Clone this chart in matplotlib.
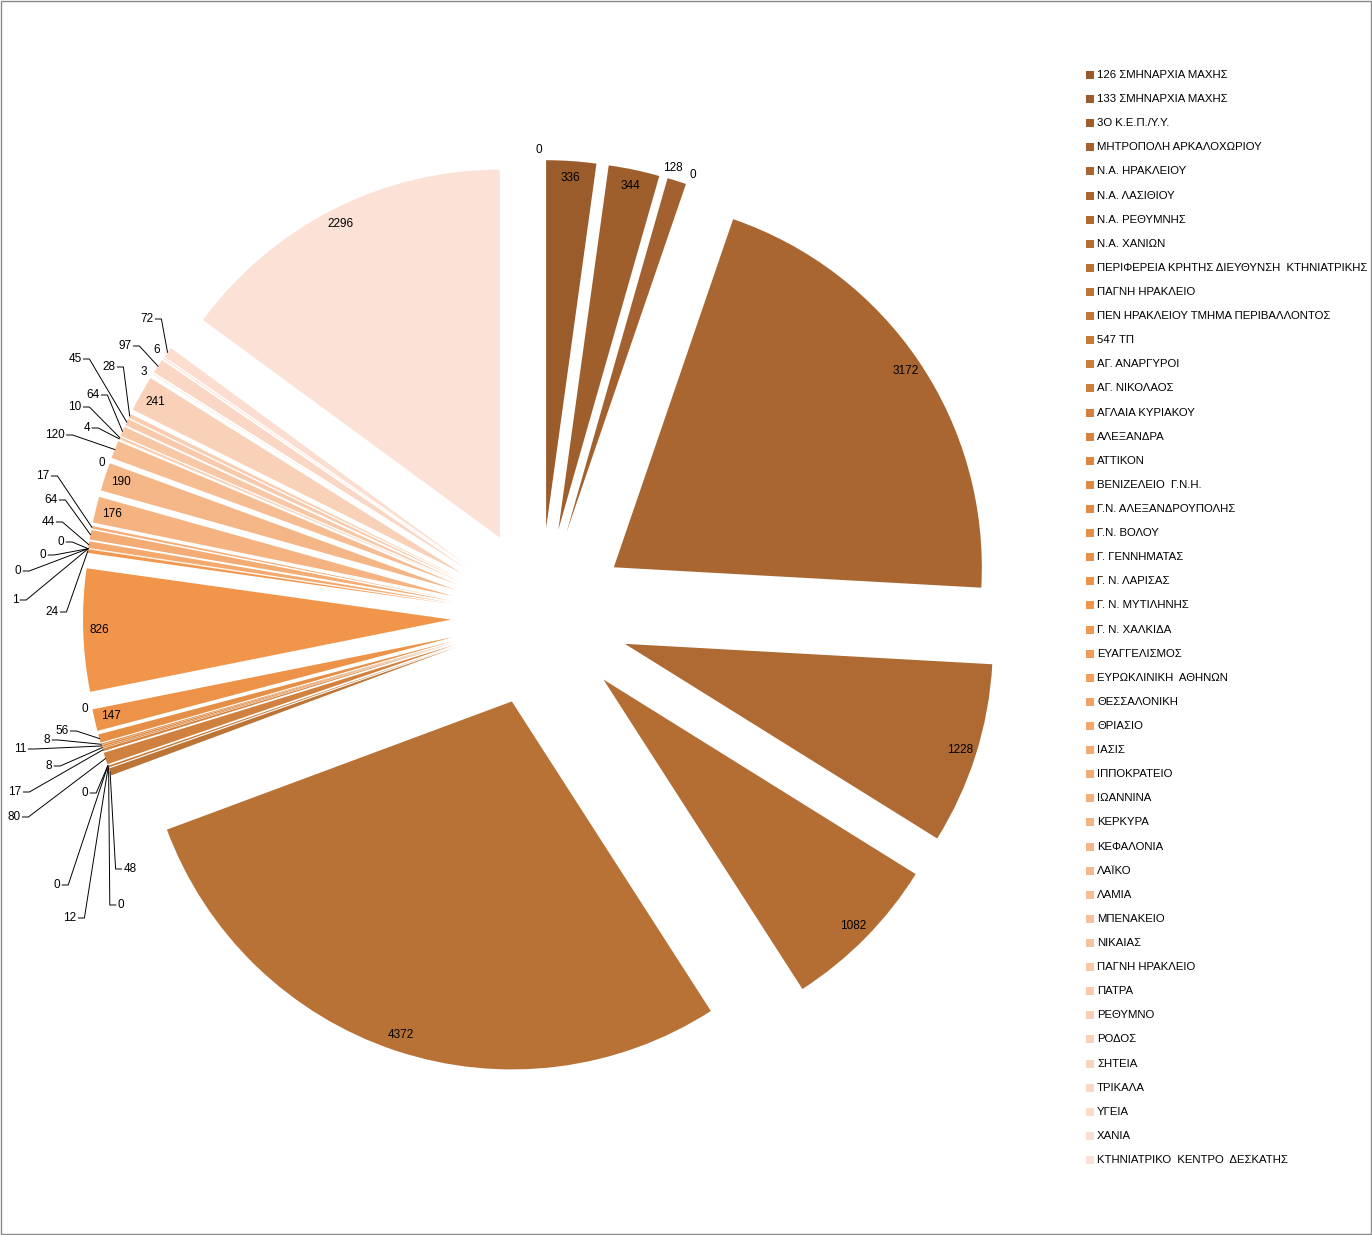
import numpy as np
import matplotlib.pyplot as plt
from matplotlib.patches import Rectangle

W, H = 1372, 1235

names = [
    "126 ΣΜΗΝΑΡΧΙΑ ΜΑΧΗΣ", "133 ΣΜΗΝΑΡΧΙΑ ΜΑΧΗΣ", "3Ο Κ.Ε.Π./Υ.Υ.",
    "ΜΗΤΡΟΠΟΛΗ ΑΡΚΑΛΟΧΩΡΙΟΥ", "Ν.Α. ΗΡΑΚΛΕΙΟΥ", "Ν.Α. ΛΑΣΙΘΙΟΥ",
    "Ν.Α. ΡΕΘΥΜΝΗΣ", "Ν.Α. ΧΑΝΙΩΝ",
    "ΠΕΡΙΦΕΡΕΙΑ ΚΡΗΤΗΣ ΔΙΕΥΘΥΝΣΗ  ΚΤΗΝΙΑΤΡΙΚΗΣ", "ΠΑΓΝΗ ΗΡΑΚΛΕΙΟ",
    "ΠΕΝ ΗΡΑΚΛΕΙΟΥ ΤΜΗΜΑ ΠΕΡΙΒΑΛΛΟΝΤΟΣ", "547 ΤΠ", "ΑΓ. ΑΝΑΡΓΥΡΟΙ",
    "ΑΓ. ΝΙΚΟΛΑΟΣ", "ΑΓΛΑΙΑ ΚΥΡΙΑΚΟΥ", "ΑΛΕΞΑΝΔΡΑ", "ΑΤΤΙΚΟΝ",
    "ΒΕΝΙΖΕΛΕΙΟ  Γ.Ν.Η.", "Γ.Ν. ΑΛΕΞΑΝΔΡΟΥΠΟΛΗΣ", "Γ.Ν. ΒΟΛΟΥ",
    "Γ. ΓΕΝΝΗΜΑΤΑΣ", "Γ. Ν. ΛΑΡΙΣΑΣ", "Γ. Ν. ΜΥΤΙΛΗΝΗΣ", "Γ. Ν. ΧΑΛΚΙΔΑ",
    "ΕΥΑΓΓΕΛΙΣΜΟΣ", "ΕΥΡΩΚΛΙΝΙΚΗ  ΑΘΗΝΩΝ", "ΘΕΣΣΑΛΟΝΙΚΗ", "ΘΡΙΑΣΙΟ",
    "ΙΑΣΙΣ", "ΙΠΠΟΚΡΑΤΕΙΟ", "ΙΩΑΝΝΙΝΑ", "ΚΕΡΚΥΡΑ", "ΚΕΦΑΛΟΝΙΑ", "ΛΑΪΚΟ",
    "ΛΑΜΙΑ", "ΜΠΕΝΑΚΕΙΟ", "ΝΙΚΑΙΑΣ", "ΠΑΓΝΗ ΗΡΑΚΛΕΙΟ", "ΠΑΤΡΑ",
    "ΡΕΘΥΜΝΟ", "ΡΟΔΟΣ", "ΣΗΤΕΙΑ", "ΤΡΙΚΑΛΑ", "ΥΓΕΙΑ", "ΧΑΝΙΑ",
    "ΚΤΗΝΙΑΤΡΙΚΟ  ΚΕΝΤΡΟ  ΔΕΣΚΑΤΗΣ",
]

values = [0, 336, 344, 128, 0, 3172, 1228, 1082, 4372,
          48, 0, 12, 0, 0, 80, 17, 8, 11, 8, 56,
          0, 147, 826, 24, 1, 0, 0, 0, 44, 64, 17,
          176, 190, 0, 120, 4, 10, 64, 45, 28,
          241, 3, 97, 6, 72, 2296]

# colour ramp (dark brown -> orange -> pale peach)
ramp_pos = [0, 5, 8, 22, 45]
ramp_rgb = np.array([(152, 90, 42), (169, 102, 48), (185, 114, 54),
                     (240, 149, 74), (252, 225, 214)]) / 255.0
idx = np.arange(len(values))
colors = [tuple(np.interp(i, ramp_pos, ramp_rgb[:, c]) for c in range(3)) for i in idx]

# label positions for the small slices (pixels, y down): (x, y, leader line?)
outside = {
    0: (539, 150, False), 3: (673, 168, False), 4: (693, 175, False),
    9: (130, 869, True), 10: (121, 905, True), 11: (70, 918, True),
    12: (57, 885, True), 13: (85, 793, True), 14: (14, 817, True),
    15: (15, 792, True), 16: (49, 766, True), 17: (20, 749, True),
    18: (47, 740, True), 19: (62, 731, True), 20: (85, 709, False),
    23: (52, 612, True), 24: (15, 600, True), 25: (18, 571, True),
    26: (43, 555, True), 27: (61, 542, True), 28: (48, 522, True),
    29: (51, 500, True), 30: (43, 476, True), 33: (102, 463, False),
    34: (55, 435, True), 35: (87, 428, True), 36: (75, 407, True),
    37: (93, 395, True), 38: (75, 359, True), 39: (109, 367, True),
    41: (144, 372, False), 42: (125, 346, True), 43: (157, 350, False),
    44: (147, 319, True),
}

plt.rcParams['font.family'] = ['Liberation Sans', 'DejaVu Sans']
FS = 8.5
FS_LEG = 8.2

fig = plt.figure(figsize=(W / 100, H / 100), dpi=100)
ax = fig.add_axes([0, 0, 1, 1])

R = 368
GAP = 89  # pie.explode is in data units here
cx, cy = 540, H - 617
wedges, _ = ax.pie(values, radius=R, center=(cx, cy), explode=[GAP] * len(values),
                   startangle=90, counterclock=False, colors=colors,
                   wedgeprops=dict(linewidth=0), frame=False)
ax.set_xlim(0, W)
ax.set_ylim(0, H)
ax.axis('off')

for i, (w, v) in enumerate(zip(wedges, values)):
    mid = np.deg2rad((w.theta1 + w.theta2) / 2)
    d = np.array([np.cos(mid), np.sin(mid)])
    apex = np.array(w.center)
    if i in outside:
        tx, ty, lead = outside[i]
        ty = H - ty
        ax.text(tx, ty, str(v), ha='center', va='center', fontsize=FS, color='black')
        if lead:
            tgt = apex + R * d
            side = 1 if tgt[0] > tx else -1
            tw = 6.4 * len(str(v))
            x0 = tx + side * (tw / 2 + 2)
            x1 = x0 + side * 6
            ax.plot([x0, x1, tgt[0]], [ty, ty, tgt[1]], color='black', lw=0.7)
    else:
        p = apex + 0.955 * R * d
        ax.text(p[0], p[1], str(v), ha='center', va='center', fontsize=FS, color='black')

# legend
for i, name in enumerate(names):
    y = H - (75 + i * 24.11)
    ax.add_patch(Rectangle((1086, y - 4), 8, 8, facecolor=colors[i], edgecolor='none'))
    ax.text(1097, y, name, ha='left', va='center', fontsize=FS_LEG, color='black')

ax.add_patch(Rectangle((1, 1), W - 2, H - 2, fill=False, edgecolor='#8a8a8a', lw=1))

fig.savefig('out.png', dpi=100)
